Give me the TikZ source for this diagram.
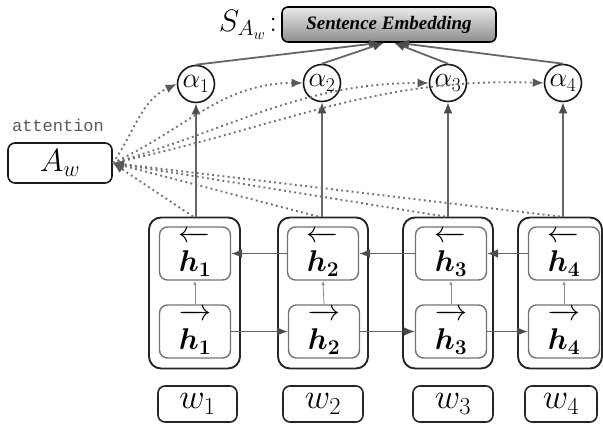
\RequirePackage{fix-cm}
\documentclass[tikz,border=0pt]{standalone}
\usepackage{amsmath}
\usepackage{bm}
\usepackage{fontspec}
\newfontfamily\sefont{Liberation Serif}
\newfontfamily\attfont{Liberation Mono}
\usetikzlibrary{arrows.meta,calc}

% hidden states with direction arrows set clear of the letter
\newcommand{\hback}[1]{\overleftarrow{\raisebox{0pt}[0.98em][0.12em]{$\bm{h_{#1}}$}}}
\newcommand{\hfwd}[1]{\overrightarrow{\raisebox{0pt}[0.98em][0.12em]{$\bm{h_{#1}}$}}}

\tikzset{
  outerbox/.style={draw=black!85, line width=1.9pt, rounded corners=12pt,
    minimum height=151pt, inner sep=0pt},
  inbox/.style={draw=black!55, line width=1.4pt, rounded corners=8pt,
    minimum width=71pt, minimum height=53pt, inner sep=0pt,
    font=\fontsize{30}{32}\selectfont},
  wbox/.style={draw=black!85, line width=1.6pt, rounded corners=7pt,
    minimum height=36pt, inner sep=0pt, font=\fontsize{35}{37}\selectfont},
  alph/.style={circle, draw=black!90, line width=1.6pt, minimum size=37pt,
    inner sep=0pt, font=\fontsize{28}{30}\selectfont},
  conn/.style={draw=black!60, line width=1.8pt,
    -{Latex[length=11pt,width=9pt,color=black!70]}},
  thinconn/.style={draw=black!45, line width=0.8pt,
    -{Latex[length=4.5pt,width=3.5pt]}},
  att/.style={draw=black!55, line width=1.9pt, dash pattern=on 1.9pt off 3.3pt,
    -{Latex[length=11pt,width=9pt,color=black!65]}},
}

\begin{document}
\begin{tikzpicture}[x=1pt,y=1pt]
\useasboundingbox (0,0) rectangle (603,431);

% sentence embedding
\node[shade, top color=black!8, bottom color=black!45, draw=black, line width=1.6pt,
  rounded corners=6pt, minimum width=214pt, minimum height=35pt, inner sep=0pt,
  font=\sefont\bfseries\itshape\fontsize{19}{21}\selectfont]
  (se) at (389,406.5) {Sentence Embedding};
\node[anchor=east, inner sep=0pt, font=\fontsize{31}{33}\selectfont]
  (slab) at ([xshift=-4pt]se.west) {$S_{A_w}\!:$};

% attention weights
\node[alph] (a1) at (196,347) {$\alpha_1$};
\node[alph] (a2) at (322,348) {$\alpha_2$};
\node[alph] (a3) at (448,348) {$\alpha_3$};
\node[alph] (a4) at (563,348) {$\alpha_4$};

% attention matrix
\node[draw=black!90, line width=1.6pt, rounded corners=7pt, minimum width=104pt,
  minimum height=40pt, inner sep=0pt, font=\fontsize{32}{34}\selectfont]
  (aw) at (60,268) {$A_w$};
\node[text=black!65, font=\attfont\fontsize{17}{19}\selectfont, inner sep=0pt]
  (attlab) at (58,306) {attention};

% BiLSTM cells
\node[outerbox, minimum width=91pt] (o1) at (194.5,138) {};
\node[outerbox, minimum width=90pt] (o2) at (323,138) {};
\node[outerbox, minimum width=90pt] (o3) at (448,138) {};
\node[outerbox, minimum width=84pt] (o4) at (560,138) {};

\node[inbox] (b1) at (195,177.5) {$\hback{1}$};
\node[inbox] (b2) at (323,177.5) {$\hback{2}$};
\node[inbox] (b3) at (451,177.5) {$\hback{3}$};
\node[inbox] (b4) at (564,177.5) {$\hback{4}$};

\node[inbox] (f1) at (195,99.5) {$\hfwd{1}$};
\node[inbox] (f2) at (324,99.5) {$\hfwd{2}$};
\node[inbox] (f3) at (451,99.5) {$\hfwd{3}$};
\node[inbox] (f4) at (564,99.5) {$\hfwd{4}$};

% words
\node[wbox, minimum width=79pt] (w1) at (197.5,27) {$w_1$};
\node[wbox, minimum width=80pt] (w2) at (323,27) {$w_2$};
\node[wbox, minimum width=80pt] (w3) at (453,27) {$w_3$};
\node[wbox, minimum width=72pt] (w4) at (561,27) {$w_4$};

% recurrent connections
\draw[conn] (b2.west) -- (b1.east);
\draw[conn] (b3.west) -- (b2.east);
\draw[conn] (b4.west) -- (b3.east);
\draw[conn] (f1.east) -- (f2.west);
\draw[conn] (f2.east) -- (f3.west);
\draw[conn] (f3.east) -- (f4.west);

% forward to backward inside each cell
\foreach \i in {1,2,3,4}{
  \draw[thinconn] (f\i.north) -- (b\i.south);
}

% hidden states to attention weights
\draw[conn] (a1 |- o1.north) -- (a1.south);
\draw[conn] (a2 |- o2.north) -- (a2.south);
\draw[conn] (a3 |- o3.north) -- (a3.south);
\draw[conn] (a4 |- o4.north) -- (a4.south);

% weights to sentence embedding
\draw[conn] (a1.north) -- ([xshift=-9pt]se.south);
\draw[conn] (a2.north) -- ([xshift=-5pt]se.south);
\draw[conn] (a3.north) -- ([xshift=5pt]se.south);
\draw[conn] (a4.north) -- ([xshift=9pt]se.south);

% attention flow
\draw[att] ([xshift=-3pt]a1 |- o1.north) -- (aw.east);
\draw[att] ([xshift=-4pt]a2 |- o2.north) -- (aw.east);
\draw[att] ([xshift=-3pt]a3 |- o3.north) -- (aw.east);
\draw[att] ([xshift=-3pt]a4 |- o4.north) -- (aw.east);

\draw[att] (aw.east) to[out=55,in=205] (a1.west);
\draw[att] (aw.east) to[out=25,in=180] (a2.west);
\draw[att] (aw.east) to[out=16,in=180] (a3.west);
\draw[att] (aw.east) to[out=12,in=178] (a4.west);
\end{tikzpicture}
\end{document}
